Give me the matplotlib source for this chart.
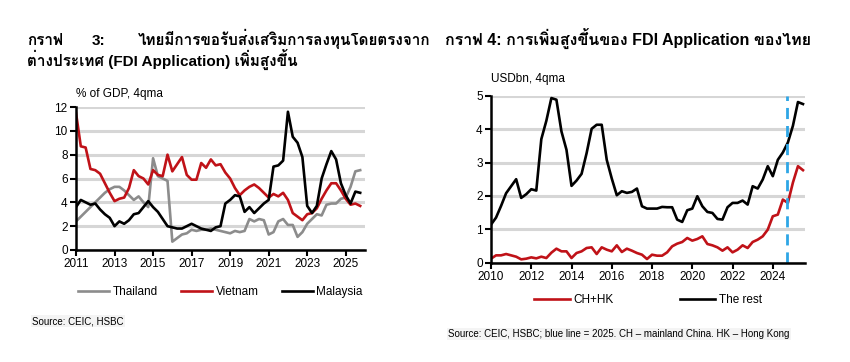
import numpy as np
import matplotlib.pyplot as plt
from matplotlib import font_manager
from matplotlib.ft2font import FT2Font

# find an installed font that has Thai glyphs
thai_family = None
for f in font_manager.fontManager.ttflist:
    try:
        if 0x0E01 in FT2Font(f.fname).get_charmap():
            thai_family = f.name
            break
    except Exception:
        pass
families = ["Liberation Sans", "DejaVu Sans"]
if thai_family:
    families = ["Liberation Sans", thai_family, "DejaVu Sans"]
plt.rcParams["font.family"] = families

# chart 3: FDI applications, % of GDP, 4qma, quarterly from 2011Q1
thailand = [2.4, 2.8, 3.2, 3.6, 4.0, 4.4, 4.8, 5.1, 5.3, 5.3, 5.0, 4.6, 4.2, 4.5, 4.0, 3.6,
            7.7, 6.2, 6.0, 5.8, 0.7, 1.0, 1.3, 1.4, 1.7, 1.6, 1.7, 1.7, 1.8, 1.7, 1.6, 1.5,
            1.4, 1.6, 1.5, 1.6, 2.6, 2.4, 2.6, 2.5, 1.3, 1.5, 2.4, 2.6, 2.1, 2.1, 1.1, 1.5,
            2.2, 2.6, 3.0, 2.9, 3.8, 3.9, 3.9, 4.3, 4.4, 5.3, 6.6, 6.7]
vietnam = [11.5, 8.7, 8.6, 6.8, 6.7, 6.4, 5.6, 4.8, 4.1, 4.3, 4.4, 5.2, 6.7, 6.2, 6.0, 5.5,
           6.7, 6.3, 6.2, 8.0, 6.6, 7.2, 7.8, 6.3, 5.9, 5.9, 7.3, 6.9, 7.6, 7.1, 7.2, 6.5,
           6.0, 5.2, 4.6, 5.0, 5.3, 5.5, 5.2, 4.8, 4.4, 4.7, 4.5, 4.8, 4.2, 3.1, 2.8, 2.5,
           3.0, 3.1, 3.5, 4.3, 5.0, 5.6, 5.6, 5.0, 4.3, 3.8, 3.9, 3.7]
malaysia = [3.6, 4.2, 4.0, 3.8, 3.9, 3.4, 3.0, 2.7, 2.0, 2.4, 2.2, 2.5, 3.0, 3.1, 3.6, 4.1,
            3.6, 3.2, 2.6, 2.0, 1.9, 1.8, 1.8, 2.0, 2.2, 2.0, 1.8, 1.7, 1.6, 1.9, 2.0, 3.9,
            4.2, 4.6, 4.5, 3.2, 3.6, 3.1, 3.5, 3.9, 4.2, 7.0, 7.1, 7.5, 11.6, 9.5, 9.0, 7.8,
            3.7, 3.1, 3.7, 6.0, 7.2, 8.3, 7.6, 5.6, 4.6, 3.9, 4.9, 4.8]

# chart 4: FDI applications, USD bn, 4qma, quarterly from 2010Q1
ch_hk = [0.12, 0.22, 0.22, 0.26, 0.22, 0.18, 0.10, 0.12, 0.16, 0.13, 0.18, 0.14, 0.30, 0.42, 0.34, 0.34,
         0.14, 0.29, 0.34, 0.44, 0.46, 0.26, 0.46, 0.39, 0.34, 0.52, 0.32, 0.42, 0.36, 0.29, 0.24, 0.11,
         0.24, 0.21, 0.21, 0.31, 0.49, 0.57, 0.62, 0.74, 0.66, 0.71, 0.79, 0.56, 0.52, 0.46, 0.36, 0.46,
         0.31, 0.39, 0.52, 0.44, 0.62, 0.69, 0.79, 0.99, 1.39, 1.44, 1.89, 1.79, 2.40, 2.89, 2.77]
the_rest = [1.14, 1.35, 1.70, 2.08, 2.29, 2.50, 1.94, 2.05, 2.20, 2.16, 3.70, 4.25, 4.93, 4.88, 3.93, 3.38,
            2.30, 2.46, 2.66, 3.28, 4.01, 4.13, 4.13, 3.08, 2.52, 2.02, 2.14, 2.09, 2.12, 2.22, 1.69, 1.62,
            1.62, 1.62, 1.67, 1.66, 1.66, 1.29, 1.22, 1.57, 1.62, 1.99, 1.69, 1.52, 1.49, 1.31, 1.29, 1.66,
            1.79, 1.79, 1.86, 1.74, 2.29, 2.22, 2.49, 2.89, 2.59, 3.08, 3.30, 3.60, 4.10, 4.81, 4.75]
blue_line = 2024.7

x3 = 2011 + np.arange(len(vietnam)) / 4
x4 = 2010 + np.arange(len(ch_hk)) / 4

red = "#c01218"
grey = "#8c8c8c"
lw = 1.9

fig = plt.figure(figsize=(8.5, 3.62), dpi=100)


def style(ax):
    ax.spines["top"].set_visible(False)
    ax.spines["right"].set_visible(False)
    ax.spines["left"].set_linewidth(1.8)
    ax.spines["bottom"].set_linewidth(1.8)
    ax.yaxis.grid(True, color="#d6d6d6", linewidth=2.2)
    ax.set_axisbelow(True)
    ax.tick_params(axis="both", direction="out", width=1.5, length=4, labelsize=8.5, pad=2)


# ---- left chart
ax1 = fig.add_axes([76 / 850, 112 / 362, 289 / 850, 143 / 362])
ax1.plot(x3, thailand, color=grey, lw=lw, label="Thailand")
ax1.plot(x3, vietnam, color=red, lw=lw, label="Vietnam")
ax1.plot(x3, malaysia, color="black", lw=lw, label="Malaysia")
ax1.set_xlim(2011, 2026)
ax1.set_ylim(0, 12)
ax1.set_xticks(range(2011, 2026, 2))
ax1.set_yticks(range(0, 13, 2))
style(ax1)
ax1.text(0.0, 1.07, "% of GDP, 4qma", transform=ax1.transAxes, fontsize=8.5)
ax1.legend(loc="upper center", bbox_to_anchor=(0.5, -0.18), ncol=3, frameon=False,
           fontsize=8.5, handlelength=2.6, columnspacing=2.0, handletextpad=0.3)

# ---- right chart
ax2 = fig.add_axes([491 / 850, 99.3 / 362, 314 / 850, 167 / 362])
ax2.plot(x4, ch_hk, color=red, lw=lw, label="CH+HK")
ax2.plot(x4, the_rest, color="black", lw=lw, label="The rest")
ax2.axvline(blue_line, color="#2ea6e6", lw=2, dashes=(4, 2.5))
ax2.set_xlim(2010, 2025.6)
ax2.set_ylim(0, 5)
ax2.set_xticks(range(2010, 2025, 2))
ax2.set_yticks(range(0, 6))
style(ax2)
ax2.text(0.0, 1.085, "USDbn, 4qma", transform=ax2.transAxes, fontsize=8.5)
ax2.legend(loc="upper center", bbox_to_anchor=(0.5, -0.125), ncol=2, frameon=False,
           fontsize=8.5, handlelength=3.0, columnspacing=5.6, handletextpad=0.3)

# ---- titles and sources
fig.text(27 / 850, 1 - 45 / 362, "กราฟ", fontsize=11, fontweight="bold")
fig.text(92 / 850, 1 - 45 / 362, "3:", fontsize=11, fontweight="bold")
fig.text(138 / 850, 1 - 45 / 362, "ไทยมีการขอรับส่งเสริมการลงทุนโดยตรงจาก", fontsize=11, fontweight="bold")
fig.text(27 / 850, 1 - 66 / 362, "ต่างประเทศ (FDI Application) เพิ่มสูงขึ้น", fontsize=11, fontweight="bold")
fig.text(445 / 850, 1 - 45 / 362, "กราฟ 4: การเพิ่มสูงขึ้นของ FDI Application ของไทย", fontsize=11.5, fontweight="bold")

fig.text(32 / 850, 1 - 324 / 362, "Source: CEIC, HSBC", fontsize=7,
         bbox=dict(facecolor="#f4f4f4", edgecolor="none", pad=1))
fig.text(448 / 850, 1 - 337 / 362, "Source: CEIC, HSBC; blue line = 2025. CH – mainland China. HK – Hong Kong",
         fontsize=7, bbox=dict(facecolor="#f4f4f4", edgecolor="none", pad=1))

plt.savefig("out.png", dpi=100)
